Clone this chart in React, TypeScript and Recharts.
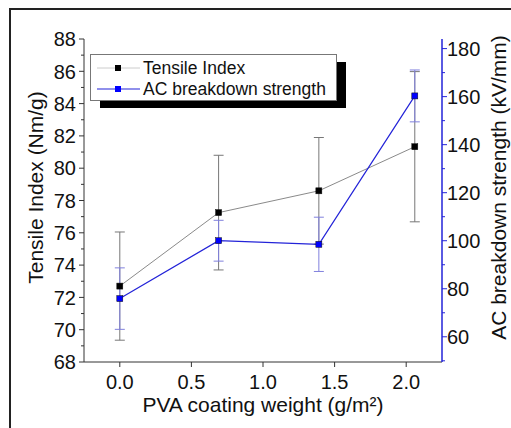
import { ComposedChart, Line, XAxis, YAxis, ErrorBar } from "recharts";

// values
const coatingWeight = [0, 0.69, 1.39, 2.06];
const tensileIndex = [72.7, 77.25, 78.6, 81.33];
const tensileErr = [3.35, 3.55, 3.3, 4.65];
const acStrength = [75.9, 100, 98.5, 160.3];
const acErr = [12.8, 8.5, 11.3, 10.8];

const xTicks = [0, 0.5, 1, 1.5, 2];
const leftTicks = [68, 69, 70, 71, 72, 73, 74, 75, 76, 77, 78, 79, 80, 81, 82, 83, 84, 85, 86, 87, 88];
const rightTicks = [50, 60, 70, 80, 90, 100, 110, 120, 130, 140, 150, 160, 170, 180];

const data = coatingWeight.map((w, i) => ({
  w,
  tensile: tensileIndex[i],
  tensileErr: tensileErr[i],
  ac: acStrength[i],
  acErr: acErr[i]
}));

const FONT = '"Liberation Sans", Arial, sans-serif';
const BLUE = "#2323d8";
const TICK_FONT = 20;

function LeftTick(props: any) {
  const { x, y, payload } = props;
  const v = payload.value;
  const major = v % 2 === 0;
  return (
    <g>
      <line x1={x} x2={x - (major ? 5 : 3)} y1={y} y2={y} stroke="#333" />
      {major && (
        <text x={x - 8} y={y} dy="0.36em" textAnchor="end" fontSize={TICK_FONT} fill="#111" fontFamily={FONT}>
          {v}
        </text>
      )}
    </g>
  );
}

function RightTick(props: any) {
  const { x, y, payload } = props;
  const v = payload.value;
  const major = v >= 60 && (v - 60) % 20 === 0;
  return (
    <g>
      <line x1={x} x2={x + (major ? 5 : 3)} y1={y} y2={y} stroke={BLUE} />
      {major && (
        <text x={x + 5} y={y} dy="0.36em" textAnchor="start" fontSize={TICK_FONT} fill="#111" fontFamily={FONT}>
          {v}
        </text>
      )}
    </g>
  );
}

function AxisTitle(props: any) {
  const { viewBox, value, dx } = props;
  const cx = viewBox.x + dx;
  const cy = viewBox.y + viewBox.height / 2 - 13;
  return (
    <text
      x={cx}
      y={cy}
      transform={`rotate(-90 ${cx} ${cy})`}
      textAnchor="middle"
      dominantBaseline="central"
      fontSize={21}
      fill="#111"
      fontFamily={FONT}
    >
      {value}
    </text>
  );
}

const squareDot = (fill: string) => (p: any) =>
  <rect key={`d-${p.index}`} x={p.cx - 3} y={p.cy - 3} width={6} height={6} fill={fill} stroke="#111" strokeWidth={0.5} />;

function LegendBox() {
  return (
    <svg width={270} height={70} style={{ position: "absolute", left: 88, top: 52 }}>
      <rect x={12} y={10} width={246} height={46} fill="#000" />
      <rect x={2.5} y={2.5} width={246} height={46} fill="#fff" stroke="#777" />
      <line x1={9} x2={52} y1={16} y2={16} stroke="#ccc" />
      <rect x={27} y={13} width={6} height={6} fill="#000" />
      <text x={55} y={16} dy="0.36em" fontSize={17.5} fontFamily={FONT} fill="#111">Tensile Index</text>
      <line x1={9} x2={52} y1={37} y2={37} stroke={BLUE} strokeWidth={1.2} />
      <rect x={27} y={34} width={6} height={6} fill="#0000ff" />
      <text x={55} y={37} dy="0.36em" fontSize={17.5} fontFamily={FONT} fill="#111">AC breakdown strength</text>
    </svg>
  );
}

export default function App() {
  return (
    <div style={{ position: "absolute", left: 0, top: 0, width: 511, height: 428, background: "#fff", overflow: "hidden" }}>
      <div style={{ position: "absolute", left: 9, top: 8, width: 520, height: 440, borderLeft: "2px solid #222", borderTop: "2px solid #222" }} />
      <ComposedChart width={511} height={428} data={data} margin={{ top: 39, right: 0, bottom: 0, left: 0 }}>
        <XAxis
          dataKey="w"
          type="number"
          domain={[-0.25, 2.25]}
          ticks={xTicks}
          tickFormatter={(v: number) => v.toFixed(1)}
          height={66}
          tickSize={5}
          tickMargin={8}
          stroke="#333"
          tick={{ fill: "#111", fontSize: TICK_FONT, fontFamily: FONT }}
          label={{ value: "PVA coating weight (g/m²)", position: "insideBottom", offset: 16, fontSize: 21, fill: "#111", fontFamily: FONT }}
        />
        <XAxis xAxisId="top" orientation="top" dataKey="w" type="number" domain={[-0.25, 2.25]} height={0} tick={false} tickLine={false} stroke="#555" />
        <YAxis
          yAxisId="left"
          domain={[68, 88]}
          ticks={leftTicks}
          interval={0}
          width={84}
          tickSize={0}
          tickMargin={0}
          tickLine={false}
          axisLine={{ stroke: "#333" }}
          tick={LeftTick}
          label={<AxisTitle value="Tensile Index (Nm/g)" dx={35} />}
        />
        <YAxis
          yAxisId="right"
          orientation="right"
          domain={[49.5, 184]}
          ticks={rightTicks}
          interval={0}
          width={69}
          tickSize={0}
          tickMargin={0}
          tickLine={false}
          axisLine={{ stroke: BLUE, strokeWidth: 1.5 }}
          tick={RightTick}
          label={<AxisTitle value="AC breakdown strength (kV/mm)" dx={56} />}
        />
        <Line
          yAxisId="left"
          dataKey="tensile"
          stroke="#8a8a8a"
          strokeWidth={1}
          dot={squareDot("#000")}
          activeDot={false}
          isAnimationActive={false}
        >
          <ErrorBar dataKey="tensileErr" direction="y" width={5} stroke="#777" strokeWidth={1} isAnimationActive={false} />
        </Line>
        <Line
          yAxisId="right"
          dataKey="ac"
          stroke={BLUE}
          strokeWidth={1.2}
          dot={squareDot("#0000ff")}
          activeDot={false}
          isAnimationActive={false}
        >
          <ErrorBar dataKey="acErr" direction="y" width={5} stroke="#8080dd" strokeWidth={1} isAnimationActive={false} />
        </Line>
      </ComposedChart>
      <LegendBox />
    </div>
  );
}
